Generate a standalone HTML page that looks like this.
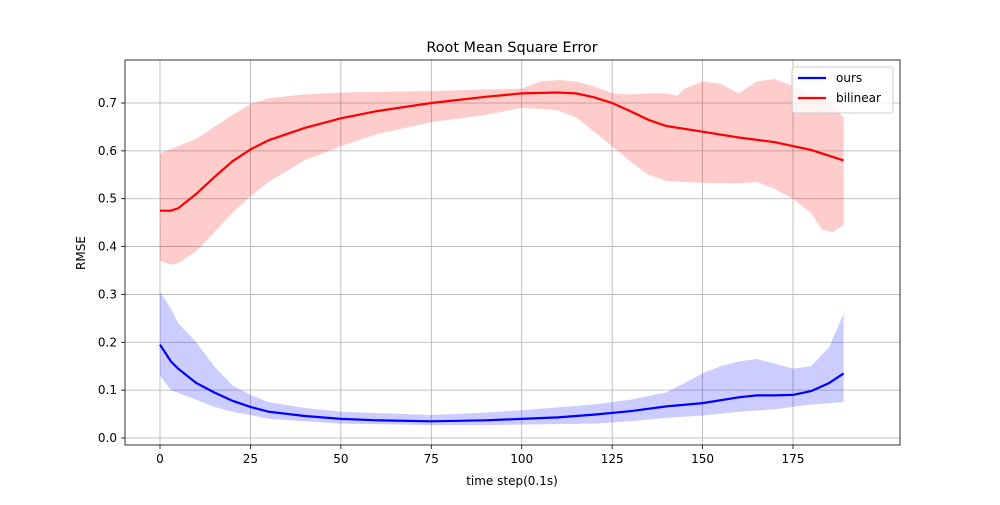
<!DOCTYPE html>
<html><head><meta charset="utf-8"><style>
body{margin:0;background:#fff;}
svg text{font-family:"DejaVu Sans","Liberation Sans",sans-serif;}
</style></head><body>
<svg id="chart" width="1000" height="500" xmlns="http://www.w3.org/2000/svg"></svg>
<script>
const xTicks=[0,25,50,75,100,125,150,175];
const yTicks=[0,0.1,0.2,0.3,0.4,0.5,0.6,0.7];
const redMeanX=[0,3,5,10,15,20,25,30,40,50,60,75,90,100,110,115,120,125,130,135,140,150,160,170,180,189];
const redMean=[0.475,0.475,0.48,0.51,0.545,0.578,0.603,0.622,0.648,0.668,0.683,0.70,0.713,0.72,0.722,0.72,0.712,0.70,0.683,0.665,0.652,0.64,0.628,0.618,0.602,0.58];
const redUpX=[0,10,15,20,25,30,40,50,75,100,105,110,115,120,125,130,135,140,143,145,150,155,160,165,170,175,180,185,189];
const redUp=[0.595,0.625,0.65,0.675,0.698,0.71,0.718,0.722,0.725,0.73,0.745,0.748,0.745,0.735,0.72,0.718,0.72,0.72,0.715,0.73,0.745,0.74,0.72,0.745,0.75,0.735,0.715,0.70,0.67];
const redLoX=[0,3,5,10,15,20,25,30,40,50,60,75,90,100,110,115,120,125,130,135,140,150,160,165,170,175,180,183,186,189];
const redLo=[0.37,0.362,0.365,0.39,0.43,0.47,0.505,0.535,0.58,0.61,0.635,0.66,0.675,0.69,0.685,0.67,0.64,0.61,0.578,0.55,0.537,0.533,0.532,0.535,0.52,0.5,0.47,0.435,0.43,0.445];
const blueMeanX=[0,3,5,10,15,20,25,30,40,50,60,75,90,100,110,120,130,140,150,160,165,170,175,180,185,189];
const blueMean=[0.195,0.16,0.145,0.115,0.095,0.078,0.065,0.055,0.046,0.04,0.037,0.035,0.037,0.04,0.043,0.049,0.056,0.066,0.073,0.085,0.089,0.089,0.09,0.098,0.115,0.135];
const blueUpX=[0,3,5,10,15,20,25,30,40,50,75,90,100,120,130,140,145,150,155,160,165,170,175,180,185,189];
const blueUp=[0.305,0.27,0.24,0.2,0.15,0.11,0.09,0.075,0.063,0.055,0.048,0.053,0.058,0.07,0.08,0.095,0.115,0.135,0.15,0.16,0.165,0.155,0.145,0.15,0.19,0.26];
const blueLoX=[0,3,10,15,20,25,30,50,75,90,100,120,130,140,150,160,170,180,189];
const blueLo=[0.13,0.1,0.08,0.065,0.055,0.048,0.04,0.03,0.027,0.027,0.028,0.03,0.035,0.042,0.047,0.055,0.06,0.07,0.075];

const svg=document.getElementById('chart');
const NS='http://www.w3.org/2000/svg';
const L=125,R=900,T=60,B=445;
const sx=v=>160+v*(793-160)/175;
const sy=v=>438-v*(438-103)/0.7;
function mk(tag,attrs,parent){const e=document.createElementNS(NS,tag);for(const k in attrs)e.setAttribute(k,attrs[k]);(parent||svg).appendChild(e);return e;}
function pts(xs,ys){return xs.map((x,i)=>sx(x).toFixed(1)+','+sy(ys[i]).toFixed(1));}

// grid
xTicks.forEach(t=>{const g=mk('line',{x1:sx(t),x2:sx(t),y1:T,y2:B,stroke:'#b0b0b0','stroke-width':0.8});


const k=mk('line',{x1:sx(t),x2:sx(t),y1:B,y2:B+4,stroke:'#000','stroke-width':0.8});


const tx=mk('text',{x:sx(t),y:B+18,'font-size':12,'text-anchor':'middle',fill:'#000'});tx.textContent=t;

});
yTicks.forEach(t=>{const g=mk('line',{x1:L,x2:R,y1:sy(t),y2:sy(t),stroke:'#b0b0b0','stroke-width':0.8});


const k=mk('line',{x1:L-4,x2:L,y1:sy(t),y2:sy(t),stroke:'#000','stroke-width':0.8});


const tx=mk('text',{x:L-8,y:sy(t)+4,'font-size':12,'text-anchor':'end',fill:'#000'});tx.textContent=t.toFixed(1);

});

// bands
const rb=mk('polygon',{points:pts(redUpX,redUp).concat(pts(redLoX,redLo).reverse()).join(' '),fill:'#ff0000','fill-opacity':0.2});


const bb=mk('polygon',{points:pts(blueUpX,blueUp).concat(pts(blueLoX,blueLo).reverse()).join(' '),fill:'#0000ff','fill-opacity':0.2});


const bl=mk('polyline',{points:pts(blueMeanX,blueMean).join(' '),fill:'none',stroke:'#0000ff','stroke-width':2.2});


const rl=mk('polyline',{points:pts(redMeanX,redMean).join(' '),fill:'none',stroke:'#ff0000','stroke-width':2.2});



const fr=mk('rect',{x:L,y:T,width:R-L,height:B-T,fill:'none',stroke:'#000','stroke-width':0.8});


</script>
<svg style="position:absolute;left:0;top:0" width="1000" height="500" xmlns="http://www.w3.org/2000/svg">
<text x="512" y="52" font-size="14.4" text-anchor="middle">Root Mean Square Error</text>
<text x="512" y="485" font-size="12" text-anchor="middle">time step(0.1s)</text>
<text x="85" y="253" font-size="12" text-anchor="middle" transform="rotate(-90 85 253)">RMSE</text>
<g>
<rect x="792" y="67" width="101" height="46" rx="3" fill="#fff" fill-opacity="0.8" stroke="#ccc"/>
<line x1="798" y1="78" x2="826" y2="78" stroke="#0000ff" stroke-width="2.2"/>
<text x="836" y="82" font-size="12">ours</text>
<line x1="798" y1="98" x2="826" y2="98" stroke="#ff0000" stroke-width="2.2"/>
<text x="836" y="102" font-size="12">bilinear</text>
</g>
</svg>
</body></html>
